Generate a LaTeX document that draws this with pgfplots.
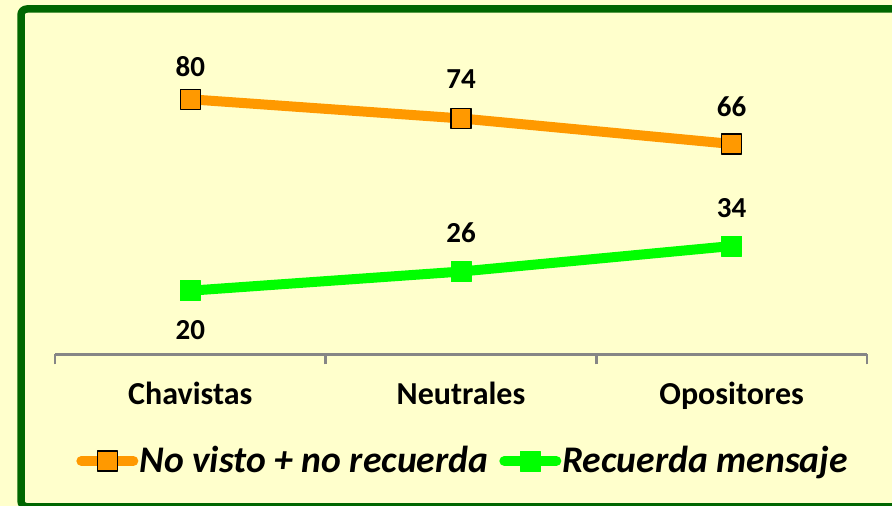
\documentclass[border=0pt]{standalone}
\usepackage{pgfplots}
\usepackage{pgfplotstable}
\pgfplotsset{compat=1.18}
\usepackage{fontspec}
\setmainfont{Carlito}
\definecolor{bg}{RGB}{255,255,204}
\definecolor{frame}{RGB}{0,102,0}
\definecolor{orng}{RGB}{255,153,0}
\definecolor{grn}{RGB}{0,255,0}
\definecolor{axgray}{RGB}{134,134,134}
\pgfplotstableread{
x y dy
0 80 16.25
1 74 19.5
2 66 18.5
}\noVisto
\pgfplotstableread{
x y dy
0 20 -19.5
1 26 19.5
2 34 19
}\recuerda
\begin{document}
\begin{tikzpicture}
\useasboundingbox (0,0) rectangle (446pt,253pt);
\fill[bg] (0,0) rectangle (446pt,253pt);
\draw[frame, line width=3.75pt, rounded corners=3pt] (10.5pt,-0.4pt) rectangle (452pt,248.5pt);
\begin{axis}[
  at={(27.5pt,75.75pt)}, anchor=south west, scale only axis,
  width=406pt, height=159.5pt,
  xmin=-0.5, xmax=2.5, ymin=0, ymax=100,
  clip=false,
  axis y line=none, axis x line*=bottom,
  axis line style={axgray, line width=1.2pt},
  xtick={0,1,2},
  xticklabels={Chavistas,Neutrales,Opositores},
  major tick length=0pt,
  xticklabel style={anchor=base, yshift=-25.25pt, font=\fontsize{16}{19}\selectfont\bfseries, text=black},
  extra x ticks={-0.5,0.5,1.5,2.5},
  extra x tick labels={},
  extra x tick style={major tick length=5pt, tick align=outside, tick style={axgray, line width=1.2pt}},
  /pgf/number format/assume math mode=true,
  nodes near coords,
  point meta=explicit,
  visualization depends on={\thisrow{dy} \as \dy},
  every node near coord/.append style={anchor=center, yshift=\dy pt, font=\fontsize{14.5}{17}\selectfont\bfseries, text=black},
  legend columns=2,
  legend cell align=left,
  legend style={draw=none, fill=none, inner sep=0pt,
    at={(axis description cs:0.0258,-0.3339)}, anchor=west,
    font=\fontsize{18.8}{22}\selectfont\bfseries\itshape,
    nodes={inner xsep=0.5pt},
    /tikz/every odd column/.append style={column sep=0pt},
    /tikz/every even column/.append style={column sep=5pt}},
  legend image code/.code={\draw[mark repeat=2,mark phase=2,#1] plot coordinates {(0pt,0pt) (13pt,0pt) (26pt,0pt)};},
]
\addplot[orng, line width=5pt, line cap=round, line join=round, mark=square*,
  mark options={fill=orng, draw=black, line width=0.75pt, mark size=5pt, solid}]
  table[x=x, y=y, meta=y] {\noVisto};
\addlegendentry{No visto + no recuerda}
\addplot[grn, line width=5pt, line cap=round, line join=round, mark=square*,
  mark options={fill=grn, draw=grn, line width=0.5pt, mark size=5pt, solid}]
  table[x=x, y=y, meta=y] {\recuerda};
\addlegendentry{Recuerda mensaje}
\end{axis}
\end{tikzpicture}
\end{document}
